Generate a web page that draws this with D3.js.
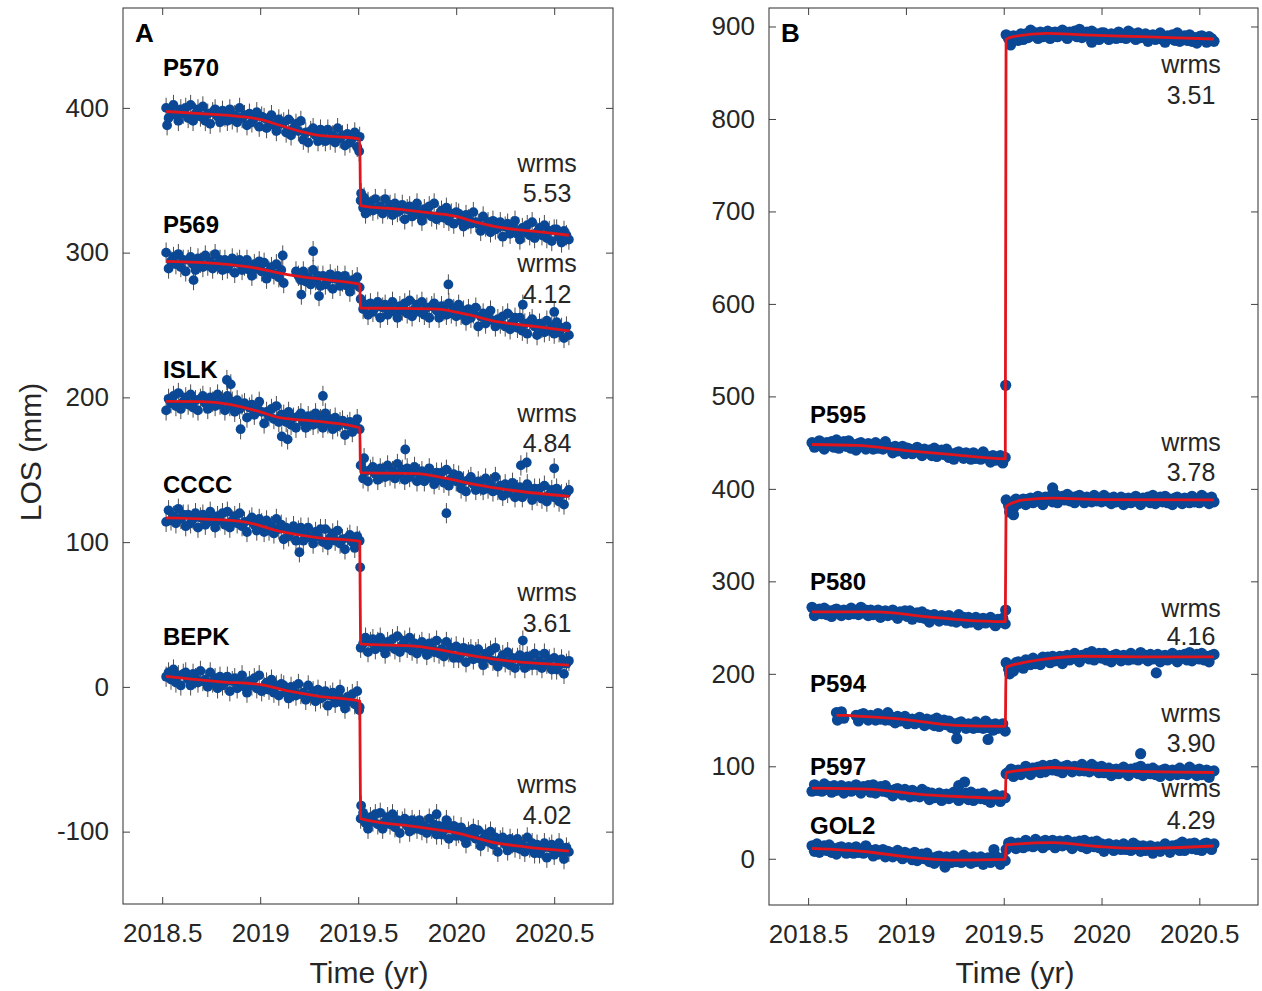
<!DOCTYPE html>
<html>
<head>
<meta charset="utf-8">
<script src="https://cdn.jsdelivr.net/npm/d3@7"></script>
<style>
  body { margin: 0; background: #fff; }
  svg { display: block; }
</style>
</head>
<body>
<svg id="fig" width="1262" height="991"></svg>
<script>
// ---------------------------------------------------------------
// GNSS line-of-sight displacement time series (mm), Ridgecrest 2019
// Solutions on a 0.0125-yr grid: 80 epochs before the event,
// 86 epochs after it.
// ---------------------------------------------------------------
const preEpochs = d3.range(80).map(i => +(2018.52 + 0.0125 * i).toFixed(4));
const postEpochs = d3.range(86).map(j => +(2019.5125 + 0.0125 * j).toFixed(4));
const epochs = preEpochs.concat(postEpochs);

const xTicks = [2018.5, 2019, 2019.5, 2020, 2020.5];
const yTicksA = [-100, 0, 100, 200, 300, 400];
const yTicksB = [0, 100, 200, 300, 400, 500, 600, 700, 800, 900];

const stationNames = ["P570", "P569", "ISLK", "CCCC", "BEPK", "P595", "P580", "P594", "P597", "GOL2"];
const wrmsValues = ["5.53", "4.12", "4.84", "3.61", "4.02", "3.51", "3.78", "4.16", "3.90", "4.29"];

// ---- Panel A stations (LOS, mm) ----
const p570Values = [
  400,393,398,402,395,391,399,396, 400,393,402,391,396,399,394,401,
  391,396,389,397,399,394,390,398, 394,391,399,392,395,390,400,393,
  395,388,396,390,393,397,387,394, 393,386,391,395,388,384,392,389,
  390,383,392,381,386,389,384,391, 378,383,376,384,386,381,377,385,
  380,377,385,378,381,376,386,379, 381,374,382,376,379,383,373,380,
  336,331,327,335,332,329,337,330, 332,327,337,330,333,326,334,328,
  329,333,323,330,332,325,330,334, 326,322,330,327,332,325,334,323,
  326,329,324,331,322,327,320,328, 327,322,318,326,323,320,328,321,
  320,315,325,318,321,314,322,316, 317,321,311,318,320,313,318,322,
  313,309,317,314,319,312,321,310, 314,317,312,319,310,315,308,316,
  316,311,307,315,312,309];
const p570Extra = [[2018.525,388],[2019.505,370],[2019.515,341],[2019.53,338]];
const p570Model = [[2018.52,397.5],[2018.7,396],[2018.9,394],[2019.0,392],[2019.1,388],[2019.2,384],[2019.3,381],[2019.4,380],[2019.508,378.5],
  [2019.512,332.5],[2019.7,330],[2019.9,327],[2020.0,325],[2020.1,321],[2020.2,318],[2020.3,316],[2020.45,314],[2020.575,312]];

const p569Values = [
  300,289,294,297,292,299,290,295, 287,295,297,292,288,296,293,290,
  298,291,294,289,299,292,295,288, 295,289,292,296,286,293,295,288,
  291,295,288,284,292,289,294,287, 293,282,287,290,285,292,283,288,
  279,null,null,null,null,287,284,281, 287,280,283,278,288,281,284,277,
  284,278,281,285,275,282,284,277, 280,284,277,273,281,278,283,276,
  268,261,264,257,265,259,262,266, 255,262,264,257,262,266,259,255,
  263,260,265,258,267,256,261,264, 259,266,257,262,255,263,265,260,
  255,263,260,257,265,258,261,256, 264,257,260,253,261,255,258,262,
  249,256,258,251,256,260,253,249, 254,251,256,249,258,247,252,255,
  248,255,246,251,244,252,254,249, 243,251,248,245,253,246,249,244,
  252,245,248,241,249,243];
const p569Extra = [[2018.66,281],[2019.115,298],[2019.27,301],[2019.21,271],[2019.3,270],[2019.96,278],[2020.34,264],[2020.5,259]];
const p569Model = [[2018.52,294],[2018.8,292.3],[2018.95,290],[2019.12,285.3],[2019.18,284],[2019.35,281],[2019.508,278],
  [2019.512,261.7],[2019.7,261.5],[2019.9,261],[2020.05,257.5],[2020.2,252.5],[2020.4,249],[2020.575,246]];

const islkValues = [
  191,199,196,201,194,203,192,197, 200,195,202,193,198,191,199,201,
  196,192,200,197,194,202,195,198, 191,201,194,197,190,198,192,195,
  196,186,193,195,188,193,197,190, 182,190,187,192,185,194,183,188,
  188,183,190,181,186,179,187,189, 183,179,187,184,181,189,182,185,
  179,189,182,185,178,186,180,183, 184,174,181,183,176,181,185,178,
  153,144,149,142,150,152,147,143, 151,148,145,153,146,149,144,154,
  147,150,143,151,145,148,152,142, 147,149,142,147,151,144,140,148,
  143,148,141,150,139,144,147,142, 146,137,142,135,143,145,140,136,
  142,139,136,144,137,140,135,145, 136,139,132,140,134,137,141,131,
  136,138,131,136,140,133,129,137, 132,137,130,139,128,133,136,131,
  137,128,133,126,134,136];
const islkExtra = [[2018.83,212],[2018.85,209],[2018.9,178],[2019.11,173],[2019.14,171],[2019.32,201],
  [2019.53,158],[2019.74,164],[2019.95,120],[2020.33,153],[2020.36,155],[2020.5,151]];
const islkModel = [[2018.52,197.2],[2018.7,197],[2018.85,195],[2019.0,190],[2019.1,186],[2019.3,183.4],[2019.508,179],
  [2019.512,148],[2019.8,147.3],[2019.95,144],[2020.1,139.7],[2020.3,135.5],[2020.575,131.6]];

const ccccValues = [
  114,122,115,118,113,123,116,119, 111,119,113,116,120,110,117,119,
  112,117,121,114,110,118,115,120, 112,121,110,115,118,113,120,111,
  114,107,115,117,112,108,116,113, 107,115,108,111,106,116,109,112,
  102,110,104,107,111,101,108,110, 101,106,110,103,99,107,104,109,
  100,109,98,103,106,101,108,99, 102,95,103,105,100,96,104,101,
  27,30,34,24,31,33,26,31, 34,27,23,31,28,33,26,35,
  24,29,32,27,34,25,30,23, 29,31,26,22,30,27,24,32,
  23,26,21,31,24,27,20,28, 20,23,27,17,24,26,19,24,
  26,19,15,23,20,25,18,27, 14,19,22,17,24,15,20,13,
  20,22,17,13,21,18,15,23, 15,18,13,23,16,19,12,20,
  12,15,19,9,16,18];
const ccccExtra = [[2019.51,82.6],[2019.2,93],[2020.34,32]];
const ccccModel = [[2018.52,116.7],[2018.9,114.4],[2019.1,107.5],[2019.3,103],[2019.508,100.6],
  [2019.512,29.7],[2019.8,28],[2020.0,23.5],[2020.2,19],[2020.575,15]];

const bepkValues = [
  7,10,5,12,3,8,1,9, 10,5,1,9,6,3,11,4,
  5,0,10,3,6,-1,7,1, 3,7,-3,4,6,-1,4,8,
  0,-4,4,1,6,-1,8,-3, 0,3,-2,5,-4,1,-6,2,
  1,-4,-8,0,-3,-6,2,-5, -4,-9,1,-6,-3,-10,-2,-8,
  -7,-3,-13,-6,-4,-11,-6,-2, -11,-15,-7,-10,-5,-12,-3,-14,
  -91,-87,-94,-98,-90,-93,-88,-95, -87,-98,-93,-90,-95,-88,-97,-92,
  -101,-93,-91,-96,-100,-92,-95,-98, -92,-99,-96,-101,-91,-98,-95,-102,
  -96,-102,-99,-95,-105,-98,-96,-103, -101,-97,-104,-108,-100,-103,-98,-105,
  -99,-110,-105,-102,-107,-100,-109,-104, -114,-106,-104,-109,-113,-105,-108,-111,
  -105,-112,-109,-114,-104,-111,-108,-115, -109,-115,-112,-108,-118,-111,-109,-116,
  -112,-108,-115,-119,-111,-114];
const bepkExtra = [[2019.505,-16],[2019.515,-82],[2019.9,-88],[2019.95,-92]];
const bepkModel = [[2018.52,7.3],[2018.8,3.5],[2019.0,1.6],[2019.15,-3],[2019.3,-6.5],[2019.508,-9.9],
  [2019.512,-91],[2019.8,-96.7],[2020.0,-100.8],[2020.2,-107.7],[2020.35,-110.5],[2020.575,-113.5]];

// ---- Panel B stations (LOS, mm) ----
const p595Values = [
  450,445,449,452,446,443,450,447, 451,445,453,444,448,451,446,452,
  444,448,442,449,450,446,443,449, 446,443,450,444,447,443,451,445,
  445,439,446,441,443,446,438,444, 443,438,442,445,439,436,443,440,
  442,436,444,435,439,442,437,443, 434,438,432,439,440,436,433,439,
  435,432,439,433,436,432,440,434, 435,429,436,431,433,436,428,434,
  891,887,884,890,888,885,892,886, 892,888,896,890,893,887,894,889,
  892,895,887,893,894,889,893,896, 890,887,894,891,895,889,897,888,
  891,894,889,895,888,892,886,893, 893,889,886,892,890,887,894,888,
  891,887,895,889,892,886,893,888, 889,892,884,890,891,886,890,893,
  886,883,890,887,891,885,893,884, 887,890,885,891,884,888,882,889,
  890,886,883,889,887,884];
const p595Extra = [[2019.51,512],[2019.535,880],[2019.95,883]];
const p595Model = [[2018.52,448],[2018.75,447],[2019.0,441.4],[2019.25,436.8],[2019.508,432.4],
  [2019.512,886],[2019.55,889],[2019.72,892.5],[2019.9,891],[2020.2,889],[2020.575,886.5]];

const p580Values = [
  272,263,267,270,265,271,264,268, 262,269,270,266,263,269,267,264,
  271,265,268,264,272,266,269,263, 269,264,266,269,261,267,268,263,
  266,269,263,260,267,264,268,262, 268,259,263,266,261,267,260,264,
  256,263,264,260,257,263,261,258, 263,257,260,256,264,258,261,255,
  261,256,258,261,253,259,260,255, 258,261,255,252,259,256,260,254,
  388,382,385,379,389,384,386,389, 383,389,390,385,389,392,386,383,
  391,388,392,386,394,385,389,392, 388,394,387,391,385,392,393,389,
  385,391,389,386,393,387,390,386, 393,387,390,384,391,386,388,391,
  383,389,390,385,389,392,386,383, 390,387,391,385,393,384,388,391,
  386,392,385,389,383,390,391,387, 384,390,388,385,392,386,389,385,
  393,387,390,384,391,386];
const p580Extra = [[2019.51,269],[2019.53,375],[2019.55,372],[2019.75,401]];
const p580Model = [[2018.52,267],[2018.85,267],[2019.1,261.8],[2019.3,258],[2019.508,256.4],
  [2019.512,381],[2019.6,388],[2019.75,390],[2020.0,388.3],[2020.575,388]];

const p594Values = [
  null,null,null,null,null,null,null,null, null,null,158,153,159,152,null,null,
  null,null,155,149,156,157,153,150, 155,153,150,157,151,154,150,158,
  150,153,147,154,149,151,154,146, 150,151,146,150,153,147,144,151,
  146,150,144,152,143,147,150,145, 149,142,146,140,147,148,144,141,
  146,144,141,148,142,145,141,149, 142,145,139,146,141,143,146,138,
  212,205,209,203,212,213,209,206, 215,213,210,217,211,214,210,218,
  215,218,212,219,214,216,219,211, 219,220,215,219,222,216,213,220,
  218,222,216,224,215,219,222,217, 222,215,219,213,220,221,217,214,
  220,218,215,222,216,219,215,223, 217,220,214,221,216,218,221,213,
  219,220,215,219,222,216,213,220, 217,221,215,223,214,218,221,216,
  222,215,219,213,220,221];
const p594Extra = [[2018.65,150],[2019.26,130],[2019.42,129],[2019.53,200],[2020.28,201]];
const p594Model = [[2018.645,155],[2018.7,155],[2018.75,154.3],[2019.0,150.4],[2019.25,144.3],[2019.508,143.2],
  [2019.512,207],[2019.6,212],[2019.7,215.5],[2019.9,219],[2020.2,218.4],[2020.575,218.4]];

const p597Values = [
  73,80,74,77,73,81,75,78, 72,79,74,76,79,71,77,78,
  73,77,80,74,71,78,75,79, 72,80,71,75,78,73,79,72,
  74,68,75,76,72,69,75,73, 67,74,68,71,67,75,69,72,
  64,71,66,68,71,63,69,70, 65,69,72,66,63,70,67,71,
  64,72,63,67,70,65,71,64, 67,61,68,69,65,62,68,66,
  92,94,97,89,95,96,91,95, 100,94,91,98,95,99,93,101,
  94,98,101,96,102,95,99,93, 100,101,97,94,100,98,95,102,
  95,98,94,102,96,99,93,100, 93,95,98,90,96,97,92,96,
  99,93,90,97,94,98,92,100, 90,94,97,92,98,91,95,89,
  96,97,93,90,96,94,91,98, 92,95,91,99,93,96,90,97,
  91,93,96,88,94,95];
const p597Extra = [[2019.27,79],[2019.3,83],[2020.2,113.6]];
const p597Model = [[2018.52,76.3],[2018.8,75.3],[2019.1,69],[2019.3,67],[2019.508,65.5],
  [2019.512,93],[2019.6,96],[2019.75,98.7],[2020.0,95.5],[2020.575,93.3]];

const gol2Values = [
  14,8,16,7,11,14,9,15, 7,11,5,12,13,9,6,12,
  9,6,13,7,10,6,14,8, 9,3,10,5,7,10,2,8,
  7,2,6,9,3,0,7,4, 5,-1,7,-2,2,5,0,6,
  -3,1,-5,2,3,-1,-4,2, -1,-4,3,-3,0,-4,4,-2,
  1,-5,2,-3,-1,2,-6,0, 1,-4,0,3,-3,-6,1,-2,
  10,17,18,14,11,17,15,12, 20,14,17,13,21,15,18,12,
  20,15,17,20,12,18,19,14, 17,20,14,11,18,15,19,13,
  20,11,15,18,13,19,12,16, 8,15,16,12,9,15,13,10,
  16,10,13,9,17,11,14,8, 14,9,11,14,6,12,13,8,
  13,16,10,7,14,11,15,9, 18,9,13,16,11,17,10,14,
  9,16,17,13,10,16];
const gol2Extra = [[2019.2,-9],[2019.45,10]];
const gol2Model = [[2018.52,11.3],[2018.8,7.6],[2019.0,2.2],[2019.25,-1.4],[2019.508,-0.7],
  [2019.512,15],[2019.75,17.4],[2020.0,13],[2020.2,11.3],[2020.575,13.8]];

// Formal 1-sigma used for the error bars in panel A (mm)
const sigmaA = [7, 7, 7, 7, 7];

// ---------------------------------------------------------------
const FONT = "'Liberation Sans', Arial, Helvetica, sans-serif";
const TXT = "#262626";
const AXIS = "#404040";
const DOT = "#0a4896";
const MODEL = "#e2141c";

const stations = [
  { values: p570Values, extra: p570Extra, model: p570Model },
  { values: p569Values, extra: p569Extra, model: p569Model },
  { values: islkValues, extra: islkExtra, model: islkModel },
  { values: ccccValues, extra: ccccExtra, model: ccccModel },
  { values: bepkValues, extra: bepkExtra, model: bepkModel },
  { values: p595Values, extra: p595Extra, model: p595Model },
  { values: p580Values, extra: p580Extra, model: p580Model },
  { values: p594Values, extra: p594Extra, model: p594Model },
  { values: p597Values, extra: p597Extra, model: p597Model },
  { values: gol2Values, extra: gol2Extra, model: gol2Model }
];

// Layout: frame, scales and label anchors (pixels)
const panels = [
  { letter: "A", left: 123, right: 613, top: 8, bottom: 904, yDomain: [-150, 469], yTicks: yTicksA,
    members: [0, 1, 2, 3, 4], r: 4.9, err: true, nameX: 163, wrmsX: 547, xLabel: 369,
    nameY: [76, 233, 378, 493, 645],
    wrmsY: [[172, 202], [272, 303], [422, 452], [601, 632], [793, 824]] },
  { letter: "B", left: 769, right: 1258, top: 8, bottom: 905, yDomain: [-50, 920], yTicks: yTicksB,
    members: [5, 6, 7, 8, 9], r: 5.6, err: false, nameX: 810, wrmsX: 1191, xLabel: 1015,
    nameY: [423, 590, 692, 775, 834],
    wrmsY: [[73, 104], [451, 481], [617, 645], [722, 752], [797, 829]] }
];

const svg = d3.select("#fig");
svg.append("rect").attr("width", 1262).attr("height", 991).attr("fill", "#fff");

panels.forEach(p => {
  const x = d3.scaleLinear().domain([2018.3, 2020.8]).range([p.left, p.right]);
  const y = d3.scaleLinear().domain(p.yDomain).range([p.bottom, p.top]);
  const g = svg.append("g");

  // axes: inward ticks on all four sides
  const styleAxis = sel => {
    sel.select(".domain").remove();
    sel.selectAll(".tick line").attr("stroke", AXIS).attr("stroke-width", 1);
    sel.attr("font-family", FONT).attr("font-size", 26);
    sel.selectAll(".tick text").attr("fill", TXT);
  };
  g.append("g").attr("transform", `translate(0,${p.bottom})`)
    .call(d3.axisBottom(x).tickValues(xTicks).tickFormat(d => String(d))
      .tickSizeInner(-7).tickSizeOuter(0).tickPadding(20))
    .call(styleAxis);
  g.append("g").attr("transform", `translate(0,${p.top})`)
    .call(d3.axisTop(x).tickValues(xTicks).tickFormat(() => "")
      .tickSizeInner(-7).tickSizeOuter(0))
    .call(styleAxis);
  g.append("g").attr("transform", `translate(${p.left},0)`)
    .call(d3.axisLeft(y).tickValues(p.yTicks).tickFormat(d => String(d))
      .tickSizeInner(-7).tickSizeOuter(0).tickPadding(14))
    .call(styleAxis);
  g.append("g").attr("transform", `translate(${p.right},0)`)
    .call(d3.axisRight(y).tickValues(p.yTicks).tickFormat(() => "")
      .tickSizeInner(-7).tickSizeOuter(0))
    .call(styleAxis);

  g.append("rect")
    .attr("x", p.left).attr("y", p.top)
    .attr("width", p.right - p.left).attr("height", p.bottom - p.top)
    .attr("fill", "none").attr("stroke", AXIS).attr("stroke-width", 1.1);

  // observations
  p.members.forEach((si, k) => {
    const st = stations[si];
    const pts = [];
    st.values.forEach((v, i) => { if (v !== null && i < epochs.length) pts.push([epochs[i], v]); });
    st.extra.forEach(d => pts.push(d));
    pts.sort((a, b) => a[0] - b[0]);

    const sg = g.append("g");
    if (p.err) {
      const s = sigmaA[k];
      sg.append("g").selectAll("line").data(pts).join("line")
        .attr("x1", d => x(d[0])).attr("x2", d => x(d[0]))
        .attr("y1", d => y(d[1] - s)).attr("y2", d => y(d[1] + s))
        .attr("stroke", "#3a3a3a").attr("stroke-width", 0.9);
    }
    sg.append("g").selectAll("circle").data(pts).join("circle")
      .attr("cx", d => x(d[0])).attr("cy", d => y(d[1]))
      .attr("r", p.r).attr("fill", DOT);

    // fitted trajectory model
    sg.append("path").datum(st.model)
      .attr("d", d3.line().x(d => x(d[0])).y(d => y(d[1])).curve(d3.curveMonotoneX))
      .attr("fill", "none").attr("stroke", MODEL).attr("stroke-width", 2.8)
      .attr("stroke-linejoin", "round");

    // station name and wrms
    g.append("text").attr("x", p.nameX).attr("y", p.nameY[k])
      .attr("font-family", FONT).attr("font-weight", "bold").attr("font-size", 24)
      .attr("fill", "#000").text(stationNames[si]);
    g.append("text").attr("x", p.wrmsX).attr("y", p.wrmsY[k][0])
      .attr("font-family", FONT).attr("font-size", 25).attr("text-anchor", "middle")
      .attr("fill", TXT).text("wrms");
    g.append("text").attr("x", p.wrmsX).attr("y", p.wrmsY[k][1])
      .attr("font-family", FONT).attr("font-size", 25).attr("text-anchor", "middle")
      .attr("fill", TXT).text(wrmsValues[si]);
  });

  // panel letter
  g.append("text").attr("x", p.left + 12).attr("y", 42)
    .attr("font-family", FONT).attr("font-weight", "bold").attr("font-size", 26)
    .attr("fill", "#000").text(p.letter);

  // x-axis title
  g.append("text").attr("x", p.xLabel).attr("y", 983)
    .attr("font-family", FONT).attr("font-size", 30).attr("text-anchor", "middle")
    .attr("fill", TXT).text("Time (yr)");
});

// y-axis title
svg.append("text")
  .attr("transform", "translate(41,452) rotate(-90)")
  .attr("font-family", FONT).attr("font-size", 30).attr("text-anchor", "middle")
  .attr("fill", TXT).text("LOS (mm)");
</script>
</body>
</html>
